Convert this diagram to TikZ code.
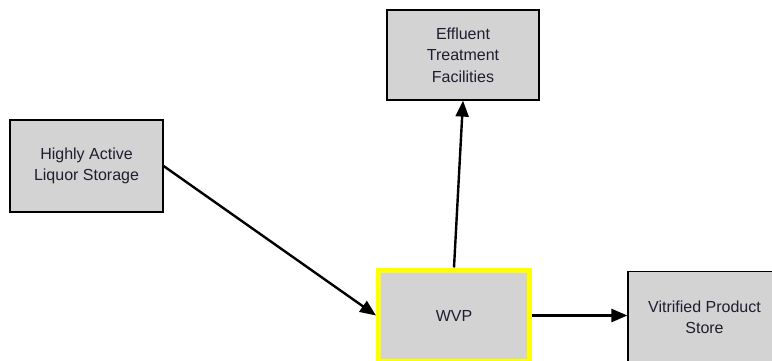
\documentclass[tikz,border=0pt]{standalone}
\usepackage{fontspec}
\setmainfont{Liberation Sans}
\usetikzlibrary{arrows.meta}
\definecolor{boxgray}{HTML}{D3D3D3}
\definecolor{txt}{HTML}{1E1E30}
\definecolor{yel}{HTML}{FFFF00}
\begin{document}
\begin{tikzpicture}[x=1pt,y=-1pt,
  box/.style={draw=black, line width=1.2pt, fill=boxgray, inner sep=0pt,
    minimum width=153pt, minimum height=92pt, align=center, text=txt,
    font=\fontsize{16}{21.5}\selectfont},
  hot/.style={box, draw=yel, line width=5pt, minimum width=151pt, minimum height=91pt},
  conn/.style={line width=2.4pt, -{Triangle[length=16pt,width=13pt]}}]
\useasboundingbox (0,0) rectangle (772,360);
\node[box] (hals) at (86.5,166) {Highly Active\\Liquor Storage};
\node[box, minimum width=152pt, minimum height=90pt] (eff) at (463,55) {Effluent\\Treatment\\Facilities};
\node[hot] (wvp) at (454,315.5) {WVP};
\node[box] (vit) at (704.5,317.5) {Vitrified Product\\Store};
\draw[conn] (hals.east) -- (wvp.west);
\draw[conn] (wvp.north) -- (eff.south);
\draw[conn] (wvp.east) -- (wvp.east -| vit.west);
\end{tikzpicture}
\end{document}
